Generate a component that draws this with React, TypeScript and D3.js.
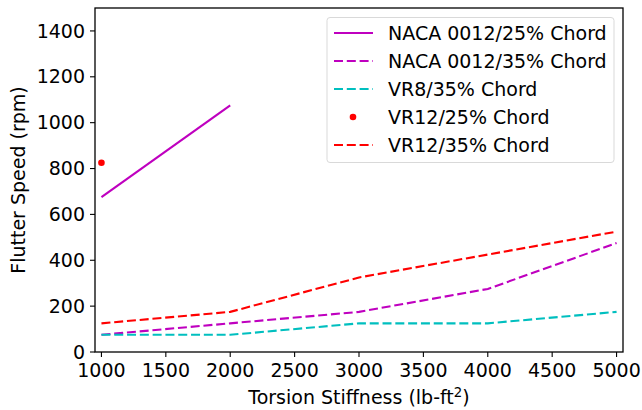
import React from "react";
import * as d3 from "d3";

// Torsion stiffness values (lb-ft^2)
const stiffness = [1000, 2000, 3000, 4000, 5000];

// Flutter speeds (rpm) per airfoil / hinge location
const naca25 = [675, 1075];
const naca35 = [75, 125, 175, 275, 475];
const vr8_35 = [75, 75, 125, 125, 175];
const vr12_25 = [825];
const vr12_35 = [125, 175, 325, 425, 525];

const xTicks = [1000, 1500, 2000, 2500, 3000, 3500, 4000, 4500, 5000];
const yTicks = [0, 200, 400, 600, 800, 1000, 1200, 1400];

type Series = {
  name: string;
  values: number[];
  color: string;
  kind: "solid" | "dashed" | "dot";
};

const series: Series[] = [
  { name: "NACA 0012/25% Chord", values: naca25, color: "#bf00bf", kind: "solid" },
  { name: "NACA 0012/35% Chord", values: naca35, color: "#bf00bf", kind: "dashed" },
  { name: "VR8/35% Chord", values: vr8_35, color: "#00bfbf", kind: "dashed" },
  { name: "VR12/25% Chord", values: vr12_25, color: "#ff0000", kind: "dot" },
  { name: "VR12/35% Chord", values: vr12_35, color: "#ff0000", kind: "dashed" },
];

const W = 642;
const H = 410;
const M = { left: 95, right: 19, top: 8, bottom: 58 };
const FONT = "DejaVu Sans, sans-serif";
const FS = 19;
const DASH = "9,3.8";

export default function App() {
  const x = d3.scaleLinear().domain([950, 5050]).range([M.left, W - M.right]);
  const y = d3.scaleLinear().domain([0, 1500]).range([H - M.bottom, M.top]);
  const line = d3
    .line<[number, number]>()
    .x((d) => x(d[0]))
    .y((d) => y(d[1]));

  const x0 = M.left;
  const x1 = W - M.right;
  const y0 = H - M.bottom;
  const y1 = M.top;

  // legend geometry
  const lgX = 327;
  const lgY = 17.5;
  const lgW = 287;
  const lgH = 145;
  const rowH = 28;

  return (
    <svg
      width={W}
      height={H}
      style={{ position: "absolute", left: 0, top: 0, background: "#fff" }}
      fontFamily={FONT}
    >
      <rect x={0} y={0} width={W} height={H} fill="#fff" />
      {series.map((s) => {
        const pts = s.values.map((v, i) => [stiffness[i], v] as [number, number]);
        if (s.kind === "dot") {
          return pts.map((p, i) => (
            <circle key={s.name + i} cx={x(p[0])} cy={y(p[1])} r={3.3} fill={s.color} />
          ));
        }
        return (
          <path
            key={s.name}
            d={line(pts) || ""}
            fill="none"
            stroke={s.color}
            strokeWidth={2.1}
            strokeDasharray={s.kind === "dashed" ? DASH : undefined}
          />
        );
      })}

      {/* spines */}
      <rect x={x0} y={y1} width={x1 - x0} height={y0 - y1} fill="none" stroke="#000" strokeWidth={1.3} />

      {/* x axis ticks */}
      {xTicks.map((t) => (
        <g key={"x" + t}>
          <line x1={x(t)} x2={x(t)} y1={y0} y2={y0 + 5} stroke="#000" strokeWidth={1.1} />
          <text x={x(t)} y={y0 + 25} textAnchor="middle" fontSize={FS} fill="#000">
            {t}
          </text>
        </g>
      ))}
      {/* y axis ticks */}
      {yTicks.map((t) => (
        <g key={"y" + t}>
          <line x1={x0 - 5} x2={x0} y1={y(t)} y2={y(t)} stroke="#000" strokeWidth={1.1} />
          <text x={x0 - 10} y={y(t)} dy="0.35em" textAnchor="end" fontSize={FS} fill="#000">
            {t}
          </text>
        </g>
      ))}

      <text x={(x0 + x1) / 2} y={H - 6} textAnchor="middle" fontSize={FS} fill="#000">
        Torsion Stiffness (lb-ft
        <tspan dy={-7} fontSize={FS * 0.7}>2</tspan>
        <tspan dy={7}>)</tspan>
      </text>
      <text
        transform={`translate(25,${(y0 + y1) / 2}) rotate(-90)`}
        textAnchor="middle"
        fontSize={FS}
        fill="#000"
      >
        Flutter Speed (rpm)
      </text>

      {/* legend */}
      <rect
        x={lgX}
        y={lgY}
        width={lgW}
        height={lgH}
        rx={3}
        fill="#fff"
        fillOpacity={0.8}
        stroke="#d9d9d9"
        strokeWidth={1}
      />
      {series.map((s, i) => {
        const cy = lgY + 15.5 + i * rowH;
        return (
          <g key={"lg" + s.name}>
            {s.kind === "dot" ? (
              <circle cx={lgX + 26} cy={cy} r={3.3} fill={s.color} />
            ) : (
              <line
                x1={lgX + 7}
                x2={lgX + 46}
                y1={cy}
                y2={cy}
                stroke={s.color}
                strokeWidth={2.1}
                strokeDasharray={s.kind === "dashed" ? DASH : undefined}
              />
            )}
            <text x={lgX + 61} y={cy} dy="0.35em" fontSize={FS} fill="#000">
              {s.name}
            </text>
          </g>
        );
      })}
    </svg>
  );
}
